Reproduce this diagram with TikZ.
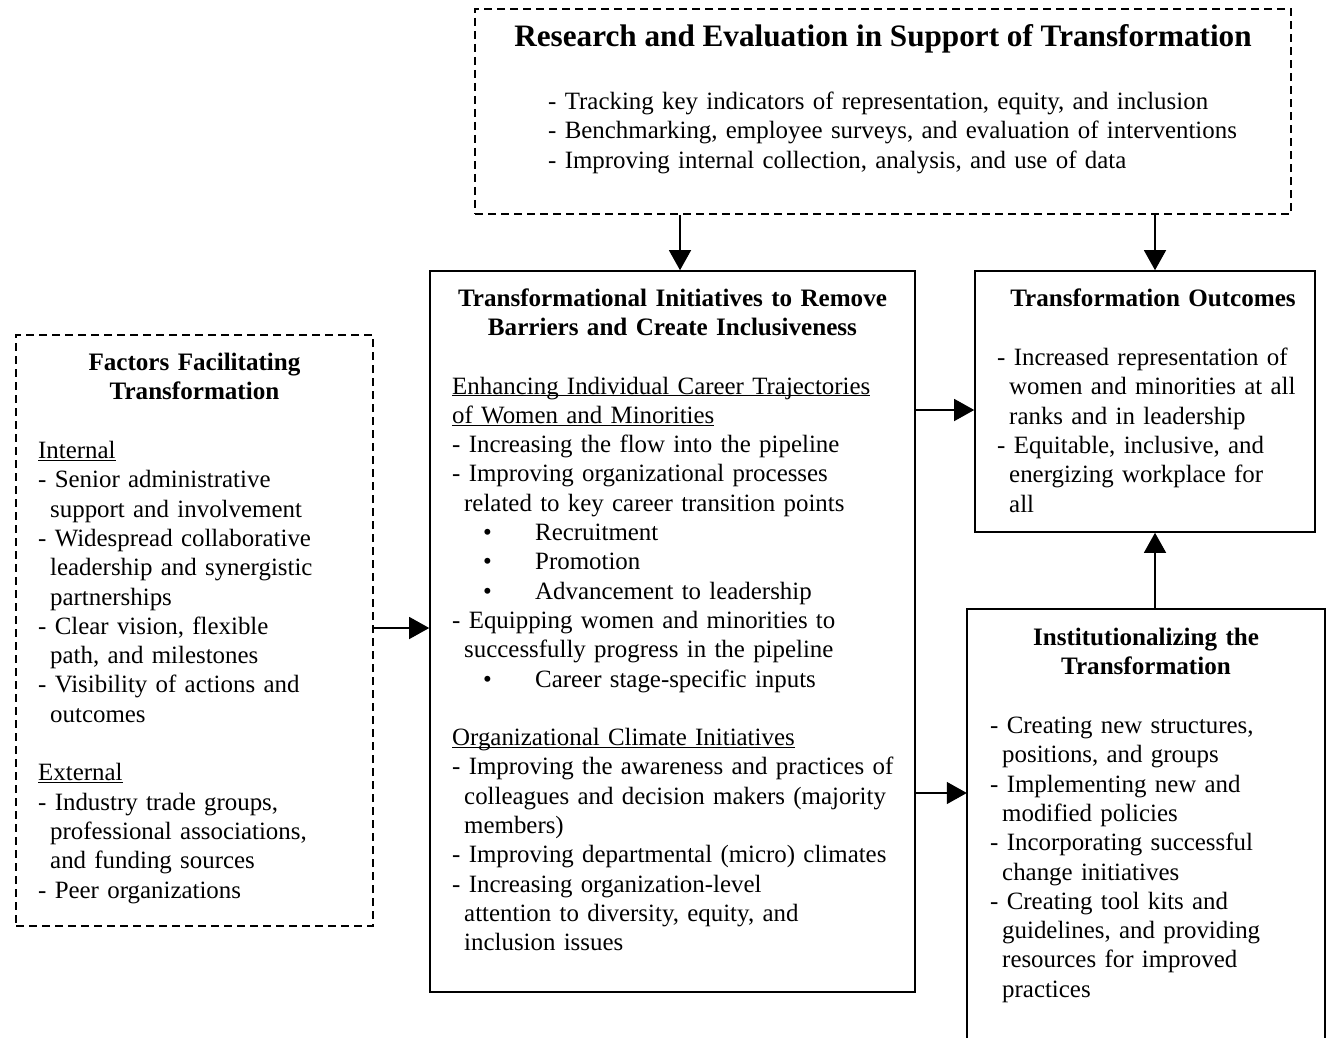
\documentclass[tikz,border=0pt]{standalone}
\usepackage{fontspec}
\setmainfont{Liberation Serif}
\usetikzlibrary{arrows.meta}
\newcommand\myind{\hspace*{12pt}}
\newcommand\mybul{\makebox[83pt][l]{\hspace*{31pt}\textbullet}}
\newcommand\myul[1]{\underline{\smash{#1}}}
\begin{document}
\begin{tikzpicture}[x=1pt,y=-1pt,
  solidbox/.style={draw, line width=1.6pt, inner sep=0pt},
  dashbox/.style={draw, line width=1.6pt, dash pattern=on 8pt off 5pt, inner sep=0pt},
  arr/.style={line width=1.3pt, -{Triangle[length=20pt,width=22pt]}},
  body/.style={font=\fontsize{24.9}{29.3}\selectfont, inner sep=0pt, anchor=base west, text width=500pt, align=left},
  head/.style={font=\fontsize{25.1}{29.3}\selectfont\bfseries, inner sep=0pt, anchor=base, text width=500pt, align=center},
]
\useasboundingbox (0,0) rectangle (1330,1038);

% boxes
\node[dashbox, minimum width=816pt, minimum height=205pt] (research) at (883,111.5) {};
\node[solidbox, minimum width=485pt, minimum height=721pt] (central) at (672.5,631.5) {};
\node[solidbox, minimum width=340pt, minimum height=261pt] (outcomes) at (1145,401.5) {};
\node[dashbox, minimum width=357pt, minimum height=591pt] (factors) at (194.5,630.5) {};
\node[inner sep=0pt, minimum width=358pt, minimum height=451pt] (instit) at (1146,834.5) {};
\draw[line width=1.6pt] (instit.south west) -- (instit.north west) -- (instit.north east) -- (instit.south east);

% research box text
\node[font=\fontsize{31.2}{36}\selectfont\bfseries, inner sep=0pt, anchor=base] (rtitle) at (883,46.5)
  {Research and Evaluation in Support of Transformation};
\node[body, text width=720pt] (rbody) at (548,109.5) {%
- Tracking key indicators of representation, equity, and inclusion\\
- Benchmarking, employee surveys, and evaluation of interventions\\
- Improving internal collection, analysis, and use of data};

% central box text
\node[head] (chead) at (672.5,306) {Transformational Initiatives to Remove\\Barriers and Create Inclusiveness};
\node[body] (cbody) at (452,394) {%
\myul{Enhancing Individual Career Trajectories}\\
\myul{of Women and Minorities}\\
- Increasing the flow into the pipeline\\
- Improving organizational processes\\
\myind related to key career transition points\\
\mybul Recruitment\\
\mybul Promotion\\
\mybul Advancement to leadership\\
- Equipping women and minorities to\\
\myind successfully progress in the pipeline\\
\mybul Career stage-specific inputs\\[29.3pt]
\myul{Organizational Climate Initiatives}\\
- Improving the awareness and practices of\\
\myind colleagues and decision makers (majority\\
\myind members)\\
- Improving departmental (micro) climates\\
- Increasing organization-level\\
\myind attention to diversity, equity, and\\
\myind inclusion issues};

% outcomes box text
\node[head] (ohead) at (1153,306) {Transformation Outcomes};
\node[body] (obody) at (997,365.5) {%
- Increased representation of\\
\myind women and minorities at all\\
\myind ranks and in leadership\\
- Equitable, inclusive, and\\
\myind energizing workplace for\\
\myind all};

% factors box text
\node[head] (fhead) at (194.5,370) {Factors Facilitating\\Transformation};
\node[body] (fbody) at (38,458.5) {%
\myul{Internal}\\
- Senior administrative\\
\myind support and involvement\\
- Widespread collaborative\\
\myind leadership and synergistic\\
\myind partnerships\\
- Clear vision, flexible\\
\myind path, and milestones\\
- Visibility of actions and\\
\myind outcomes\\[29.3pt]
\myul{External}\\
- Industry trade groups,\\
\myind professional associations,\\
\myind and funding sources\\
- Peer organizations};

% institutionalizing box text
\node[head] (ihead) at (1146,645.5) {Institutionalizing the\\Transformation};
\node[body] (ibody) at (990,733.5) {%
- Creating new structures,\\
\myind positions, and groups\\
- Implementing new and\\
\myind modified policies\\
- Incorporating successful\\
\myind change initiatives\\
- Creating tool kits and\\
\myind guidelines, and providing\\
\myind resources for improved\\
\myind practices};

% connectors
\coordinate (a1) at (680,0);
\coordinate (a2) at (1155,0);
\coordinate (a3) at (0,628);
\coordinate (a4) at (0,410);
\coordinate (a5) at (0,793);
\draw[arr] (a1 |- research.south) -- (a1 |- central.north);
\draw[arr] (a2 |- research.south) -- (a2 |- outcomes.north);
\draw[arr] (factors.east |- a3) -- (central.west |- a3);
\draw[arr] (central.east |- a4) -- (outcomes.west |- a4);
\draw[arr] (central.east |- a5) -- (instit.west |- a5);
\draw[arr] (a2 |- instit.north) -- (a2 |- outcomes.south);
\end{tikzpicture}
\end{document}
